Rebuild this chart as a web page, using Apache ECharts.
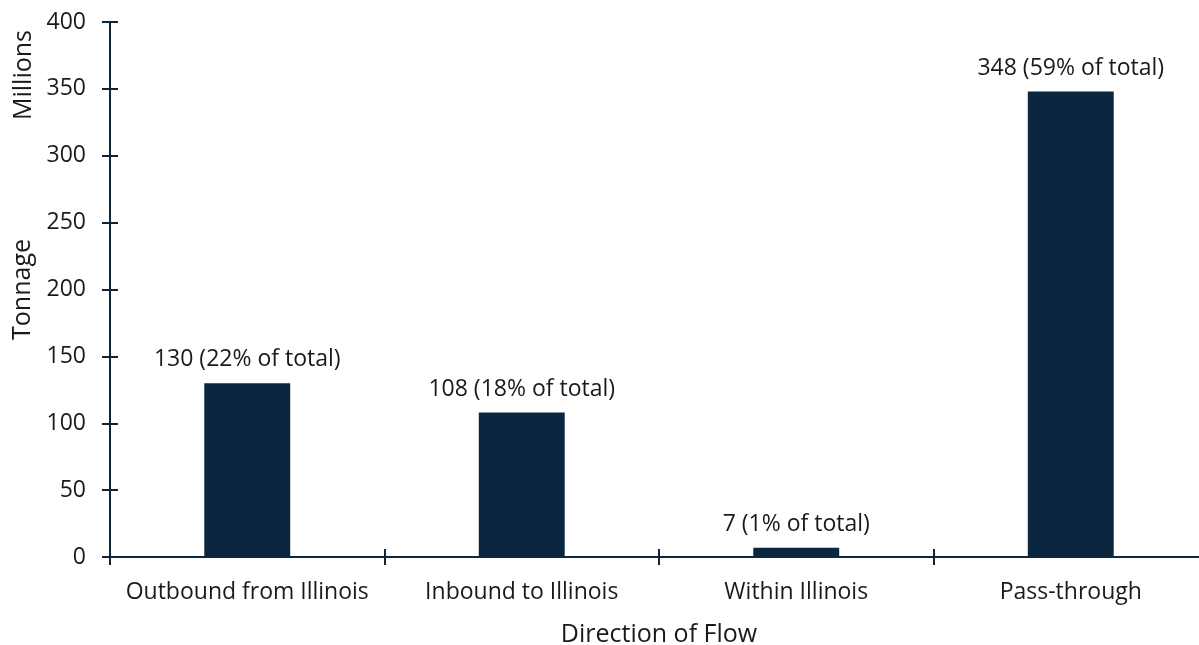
<!DOCTYPE html>
<html>
<head>
<meta charset="utf-8">
<script src="https://cdn.jsdelivr.net/npm/echarts@6/dist/echarts.min.js"></script>
<style>
  html, body { margin: 0; padding: 0; background: #ffffff; }
  #chart { width: 1199px; height: 645px; }
</style>
</head>
<body>
<div id="chart"></div>
<script>
// Freight tonnage by direction of flow (millions of tons)
const categories = ['Outbound from Illinois', 'Inbound to Illinois', 'Within Illinois', 'Pass-through'];
const tonnage = [130, 108, 7, 348];
const shareOfTotal = [22, 18, 1, 59];
const yTicks = [0, 50, 100, 150, 200, 250, 300, 350, 400];

const NAVY = '#0b2740';
const TEXT = '#1a1a1a';
const FONT = '"Open Sans", "Noto Sans", sans-serif';

const chart = echarts.init(document.getElementById('chart'), null, { renderer: 'canvas' });

const yMin = yTicks[0];
const yMax = yTicks[yTicks.length - 1];
const yStep = yTicks[1] - yTicks[0];

// Two stacked axes of each kind give ticks that cross the axis line.
const yBase = {
  type: 'value', min: yMin, max: yMax, interval: yStep, position: 'left',
  splitLine: { show: false },
  axisLine: { show: true, lineStyle: { color: NAVY, width: 2 } }
};
const xBase = {
  type: 'category', data: categories, position: 'bottom',
  axisLine: { show: true, lineStyle: { color: NAVY, width: 2 } }
};

chart.setOption({
  animation: false,
  textStyle: { fontFamily: FONT },
  grid: { left: 110, top: 22, width: 1098, bottom: 88, containLabel: false, outerBoundsMode: 'none' },
  xAxis: [
    Object.assign({}, xBase, {
      axisTick: { show: true, inside: false, length: 8, interval: 0, lineStyle: { color: NAVY, width: 2 } },
      axisLabel: { color: TEXT, fontSize: 23, margin: 24, interval: 0, fontFamily: FONT },
      name: 'Direction of Flow', nameLocation: 'middle', nameGap: 65,
      nameTextStyle: { color: TEXT, fontSize: 25, fontFamily: FONT }
    }),
    Object.assign({}, xBase, {
      axisTick: { show: true, inside: true, length: 8, interval: 0, lineStyle: { color: NAVY, width: 2 } },
      axisLabel: { show: false }
    })
  ],
  yAxis: [
    Object.assign({}, yBase, {
      axisTick: { show: true, inside: false, length: 8, lineStyle: { color: NAVY, width: 2 } },
      axisLabel: { color: TEXT, fontSize: 23, margin: 24, fontFamily: FONT },
      name: 'Tonnage', nameLocation: 'middle', nameGap: 71,
      nameTextStyle: { color: TEXT, fontSize: 25, fontFamily: FONT }
    }),
    Object.assign({}, yBase, {
      axisTick: { show: true, inside: true, length: 8, lineStyle: { color: NAVY, width: 2 } },
      axisLabel: { show: false }
    })
  ],
  graphic: [{
    type: 'text', left: 11, top: 30, rotation: Math.PI / 2,
    style: { text: 'Millions', fill: TEXT, font: '25px ' + FONT }
  }],
  series: [{
    type: 'bar',
    xAxisIndex: 0, yAxisIndex: 0,
    data: tonnage,
    barWidth: '31.3%',
    itemStyle: { color: NAVY },
    label: {
      show: true, position: 'top', distance: 12,
      color: TEXT, fontSize: 23, fontFamily: FONT,
      formatter: p => `${tonnage[p.dataIndex]} (${shareOfTotal[p.dataIndex]}% of total)`
    }
  }]
});
</script>
</body>
</html>
